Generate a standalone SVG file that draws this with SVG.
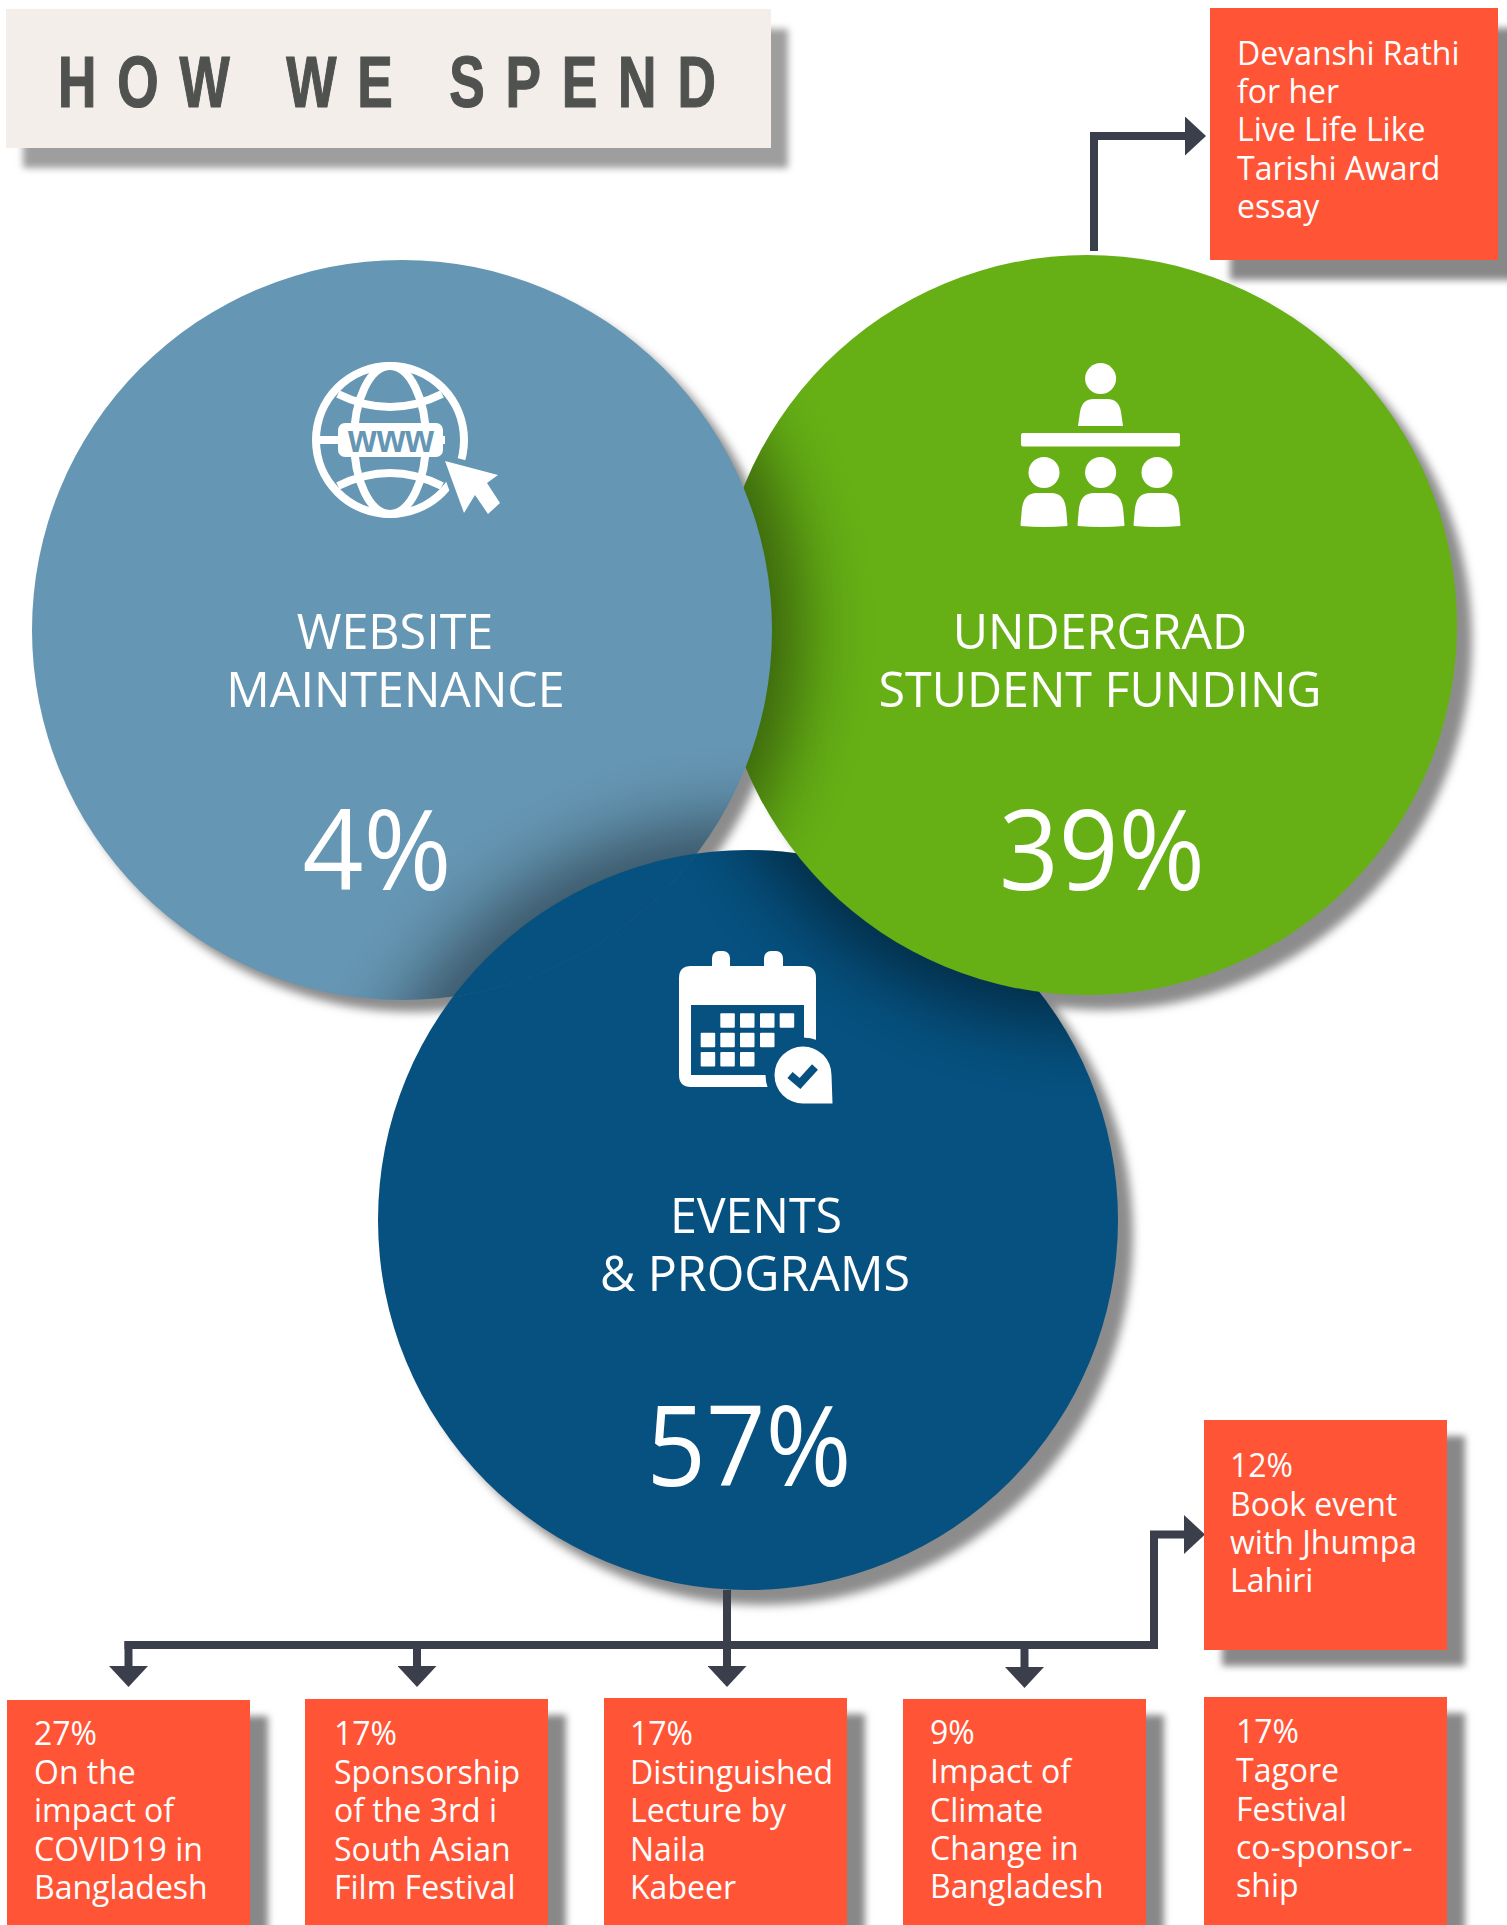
<svg xmlns="http://www.w3.org/2000/svg" width="1507" height="1925" viewBox="0 0 1507 1925">
<style>
.bx{fill:#FF5436}
.sh{fill:#888888;filter:url(#b3)}
.t{font-family:"Open Sans","Noto Sans","Liberation Sans",sans-serif;font-weight:400;font-size:32px;fill:#ffffff}
.lab{font-family:"Open Sans","Noto Sans","Liberation Sans",sans-serif;font-weight:400;font-size:48.4px;fill:#ffffff;text-anchor:middle}
.pct{font-family:"Open Sans","Noto Sans","Liberation Sans",sans-serif;font-weight:400;font-size:111px;fill:#ffffff;text-anchor:middle}
.wh{fill:#ffffff}
.conn{fill:none;stroke:#3B3F4B;stroke-width:8;stroke-linejoin:miter}
.arr{marker-end:url(#head)}
.cast{fill:#000000;opacity:.45;filter:url(#b35)}
</style>
<defs>
<filter id="b3" x="-20%" y="-20%" width="140%" height="140%"><feGaussianBlur stdDeviation="3.5"/></filter>
<filter id="b5" filterUnits="userSpaceOnUse" x="0" y="0" width="1507" height="1925"><feGaussianBlur stdDeviation="5"/></filter>
<filter id="b35" filterUnits="userSpaceOnUse" x="-200" y="0" width="1907" height="1925"><feGaussianBlur stdDeviation="35"/></filter>
<clipPath id="cDark"><circle cx="748" cy="1220" r="370"/></clipPath>
<clipPath id="cGreen"><circle cx="1087" cy="625" r="370"/></clipPath>
<clipPath id="cBlue"><circle cx="402" cy="630" r="370"/></clipPath>
<marker id="head" markerUnits="userSpaceOnUse" viewBox="0 0 21 39" refX="0" refY="19.5" markerWidth="21" markerHeight="39" orient="auto"><path d="M0 0L21 19.5L0 39Z" fill="#3B3F4B"/></marker>
<path id="body" d="M0 33C-1 33 0 29 0 26L1 15Q3 0 16 0H30Q43 0 45 15L46 26C46 29 47 33 46 33Q23 35 0 33Z"/>
</defs>
<rect width="1507" height="1925" fill="#ffffff"/>

<g id="shadows" filter="url(#b5)" fill="#8C8C8C">
<circle cx="414" cy="642" r="370"/>
<circle cx="1102" cy="640" r="370"/>
<circle cx="763" cy="1235" r="370"/>
</g>

<g id="node-title">
<rect x="23" y="29" width="765" height="139" fill="#9E9E9E" filter="url(#b3)"/>
<rect x="6" y="9" width="765" height="139" fill="#F3EEE9"/>
<text transform="translate(58 107) scale(0.74 1)" x="0" y="0" font-family="'Liberation Sans',sans-serif" font-weight="700" font-size="72" fill="#505250" stroke="#505250" stroke-width="1.2" textLength="889" lengthAdjust="spacing">HOW WE SPEND</text>
</g>

<g id="node-events">
<circle cx="748" cy="1220" r="370" fill="#06517F"/>
<g clip-path="url(#cDark)"><circle class="cast" cx="1087" cy="625" r="400"/></g>
<g class="wh">
<rect x="712" y="951" width="18" height="30" rx="7"/><rect x="764" y="951" width="19" height="30" rx="7"/>
<path fill-rule="evenodd" d="M691 966H804Q816 966 816 978V1087H691Q679 1087 679 1075V978Q679 966 691 966ZM691 1005V1075H804V1005Z"/>
<rect x="720.3" y="1013.3" width="14.5" height="14.5" rx="1"/><rect x="740" y="1013.3" width="14.5" height="14.5" rx="1"/><rect x="760" y="1013.3" width="14.5" height="14.5" rx="1"/><rect x="779.7" y="1013.3" width="14.5" height="14.5" rx="1"/>
<rect x="700.7" y="1032.7" width="14.5" height="14.5" rx="1"/><rect x="720.3" y="1032.7" width="14.5" height="14.5" rx="1"/><rect x="740" y="1032.7" width="14.5" height="14.5" rx="1"/><rect x="760" y="1032.7" width="14.5" height="14.5" rx="1"/>
<rect x="700.7" y="1052" width="14.5" height="14.5" rx="1"/><rect x="720.3" y="1052" width="14.5" height="14.5" rx="1"/><rect x="740" y="1052" width="14.5" height="14.5" rx="1"/>
</g>
<path d="M832.5 1103.5H803A28.5 28.5 0 1 1 831.5 1075Z" fill="#06517F" stroke="#06517F" stroke-width="18"/>
<path d="M832.5 1103.5H803A28.5 28.5 0 1 1 831.5 1075Z" class="wh"/>
<path d="M790 1075L800 1083.5L815 1067" fill="none" stroke="#06517F" stroke-width="8"/>
<text class="lab" x="756" y="1233">EVENTS</text>
<text class="lab" x="755" y="1291">&amp; PROGRAMS</text>
<text class="pct" x="749" y="1486" textLength="205" lengthAdjust="spacingAndGlyphs">57%</text>
</g>

<g id="node-undergrad">
<circle cx="1087" cy="625" r="370" fill="#66B016"/>
<g clip-path="url(#cGreen)"><circle class="cast" cx="402" cy="630" r="400"/></g>
<g class="wh">
<circle cx="1100.6" cy="378.6" r="15.5"/>
<path d="M1078 426L1080 412Q1082 399 1094 399H1107Q1119 399 1121 412L1123 426Z"/>
<rect x="1021" y="433" width="159" height="13.5" rx="2"/>
<circle cx="1044" cy="472.5" r="15.5"/><circle cx="1100.6" cy="472.5" r="15.5"/><circle cx="1157" cy="472.5" r="15.5"/>
<use href="#body" x="1021" y="493"/><use href="#body" x="1078" y="493"/><use href="#body" x="1134" y="493"/>
</g>
<text class="lab" x="1100" y="649">UNDERGRAD</text>
<text class="lab" x="1100" y="707">STUDENT FUNDING</text>
<text class="pct" x="1102" y="890" textLength="206" lengthAdjust="spacingAndGlyphs">39%</text>
</g>

<g id="node-website">
<circle cx="402" cy="630" r="370" fill="#6596B3"/>
<g clip-path="url(#cBlue)"><circle class="cast" cx="748" cy="1220" r="400"/></g>
<g fill="none" stroke="#ffffff" stroke-width="8">
<circle cx="390" cy="440" r="74"/>
<ellipse cx="390" cy="440" rx="36" ry="74"/>
<path d="M338 394Q390 420 442 394M338 486Q390 460 442 486M318 440H445"/>
</g>
<rect x="338" y="423" width="105" height="34" rx="7" class="wh"/>
<text x="391" y="452" text-anchor="middle" font-family="'Liberation Sans',sans-serif" font-weight="700" font-size="39" fill="#6596B3" textLength="86" lengthAdjust="spacingAndGlyphs">www</text>
<path d="M445 461L498 475L487 483L500 503L488 514L475 495L464 513Z" class="wh" stroke="#6596B3" stroke-width="12" paint-order="stroke" stroke-linejoin="round"/>
<text class="lab" x="395" y="649">WEBSITE</text>
<text class="lab" x="395.5" y="707">MAINTENANCE</text>
<text class="pct" x="377" y="890" textLength="149" lengthAdjust="spacingAndGlyphs">4%</text>
</g>
<g id="events-overlap" clip-path="url(#cBlue)"><circle cx="748" cy="1220" r="370" fill="#06517F"/></g>

<g id="connectors">
<path class="conn arr" d="M1094 251V136H1185"/>
<path class="conn arr" d="M727 1590V1666"/>
<path class="conn arr" d="M128.5 1641V1666"/>
<path class="conn arr" d="M417 1641V1666"/>
<path class="conn arr" d="M1024.5 1649V1667"/>
<path class="conn arr" d="M124.5 1645H1154V1530.5M1150 1534.5H1184"/>
</g>

<g id="node-essay">
<rect class="sh" x="1230" y="28" width="288" height="252"/>
<rect class="bx" x="1210" y="8" width="288" height="252"/>
<text class="t" x="1237" y="65">Devanshi Rathi</text>
<text class="t" x="1237" y="103">for her</text>
<text class="t" x="1237" y="141">Live Life Like</text>
<text class="t" x="1237" y="180">Tarishi Award</text>
<text class="t" x="1237" y="218">essay</text>
</g>
<g id="node-covid">
<rect class="sh" x="25" y="1716" width="243" height="225"/>
<rect class="bx" x="7" y="1700" width="243" height="225"/>
<text class="t" x="34" y="1745">27%</text>
<text class="t" x="34" y="1784">On the</text>
<text class="t" x="34" y="1822">impact of</text>
<text class="t" x="34" y="1861">COVID19 in</text>
<text class="t" x="34" y="1899">Bangladesh</text>
</g>
<g id="node-film">
<rect class="sh" x="323" y="1715" width="243" height="225"/>
<rect class="bx" x="305" y="1699" width="243" height="226"/>
<text class="t" x="334" y="1745">17%</text>
<text class="t" x="334" y="1784">Sponsorship</text>
<text class="t" x="334" y="1822">of the 3rd i</text>
<text class="t" x="334" y="1861">South Asian</text>
<text class="t" x="334" y="1899">Film Festival</text>
</g>
<g id="node-lecture">
<rect class="sh" x="622" y="1714" width="243" height="225"/>
<rect class="bx" x="604" y="1698" width="243" height="227"/>
<text class="t" x="630" y="1745">17%</text>
<text class="t" x="630" y="1784">Distinguished</text>
<text class="t" x="630" y="1822">Lecture by</text>
<text class="t" x="630" y="1861">Naila</text>
<text class="t" x="630" y="1899">Kabeer</text>
</g>
<g id="node-climate">
<rect class="sh" x="921" y="1715" width="243" height="225"/>
<rect class="bx" x="903" y="1699" width="243" height="226"/>
<text class="t" x="930" y="1744">9%</text>
<text class="t" x="930" y="1783">Impact of</text>
<text class="t" x="930" y="1822">Climate</text>
<text class="t" x="930" y="1860">Change in</text>
<text class="t" x="930" y="1898">Bangladesh</text>
</g>
<g id="node-jhumpa">
<rect class="sh" x="1222" y="1436" width="243" height="230"/>
<rect class="bx" x="1204" y="1420" width="243" height="230"/>
<text class="t" x="1230" y="1477">12%</text>
<text class="t" x="1230" y="1516">Book event</text>
<text class="t" x="1230" y="1554">with Jhumpa</text>
<text class="t" x="1230" y="1592">Lahiri</text>
</g>
<g id="node-tagore">
<rect class="sh" x="1222" y="1713" width="243" height="225"/>
<rect class="bx" x="1204" y="1697" width="243" height="228"/>
<text class="t" x="1236" y="1743">17%</text>
<text class="t" x="1236" y="1782">Tagore</text>
<text class="t" x="1236" y="1821">Festival</text>
<text class="t" x="1236" y="1859">co-sponsor-</text>
<text class="t" x="1236" y="1897">ship</text>
</g>
</svg>
